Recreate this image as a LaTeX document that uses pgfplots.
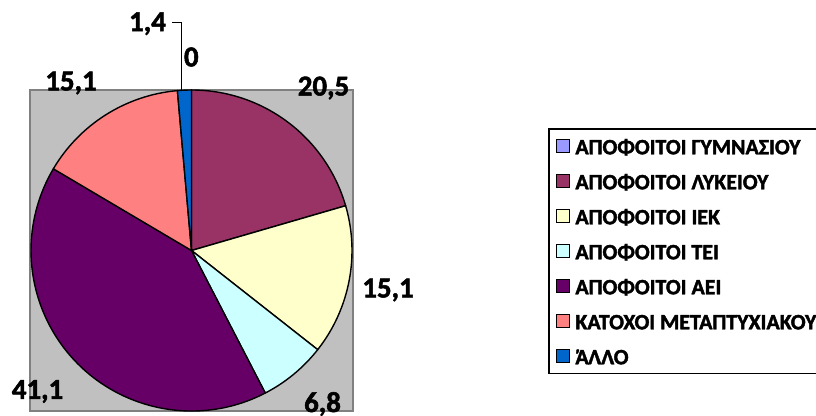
\documentclass[border=0pt]{standalone}
\usepackage{pgfplots}
\pgfplotsset{compat=1.18}
\usepackage{fontspec}
\setmainfont{Carlito}
\newfontfamily\cbold{Carlito}[UprightFont={* Bold}, FakeBold=1.8]
\definecolor{cgym}{HTML}{9999FF}
\definecolor{clyk}{HTML}{993366}
\definecolor{ciek}{HTML}{FFFFCC}
\definecolor{ctei}{HTML}{CCFFFF}
\definecolor{caei}{HTML}{660066}
\definecolor{ckat}{HTML}{FF8080}
\definecolor{callo}{HTML}{0066CC}
\definecolor{plotbg}{HTML}{C0C0C0}
\definecolor{plotframe}{HTML}{808080}
\def\pcx{191.5}
\def\pcy{165.5}
\def\pr{160.5}
\begin{document}
\begin{tikzpicture}
\begin{axis}[scale only axis, width=816bp, height=416bp,
  xmin=0, xmax=816, ymin=0, ymax=416, hide axis, clip=false,
  legend image code/.code={\draw[#1,draw=black,line width=1.6bp] (0bp,-6.5bp) rectangle (13bp,6.5bp);},
  legend style={at={(axis cs:548,288)}, anchor=north west, draw=black, line width=1.6bp,
    inner xsep=7bp, inner ysep=6bp, row sep=12.3bp, column sep=5bp,
    font=\cbold\fontsize{22}{23}\selectfont,
    nodes={inner sep=0pt, text height=19.5bp, text depth=3.2bp},
    cells={anchor=west}},
]
\fill[plotbg, draw=plotframe, line width=1.5bp] (axis cs:30,5) rectangle (axis cs:353,326);
\gdef\cumang{90}
\foreach \v/\c in {0/cgym,20.5/clyk,15.1/ciek,6.8/ctei,41.1/caei,15.1/ckat,1.4/callo}{
  \pgfmathsetmacro\a{\cumang}
  \pgfmathsetmacro\b{\cumang-3.6*\v}
  \pgfmathsetmacro\sx{\pcx+\pr*cos(\a)}
  \pgfmathsetmacro\sy{\pcy+\pr*sin(\a)}
  \edef\temp{\noexpand\filldraw[fill=\c, draw=black, line width=1.4bp, line join=round] (axis cs:\pcx,\pcy) -- (axis cs:\sx,\sy) arc[start angle=\a, end angle=\b, radius=\pr bp] -- cycle;}
  \temp
  \xdef\cumang{\b}
}
\draw[black, line width=1.2bp] (axis cs:172,393.3) -- (axis cs:181.7,393.3) -- (axis cs:181.7,326);
\begin{scope}[every node/.style={font=\cbold\fontsize{29}{29}\selectfont}]
\node at (axis cs:147.5,392.3) {1,4};
\node at (axis cs:191.3,359) {0};
\node at (axis cs:323.5,328) {20,5};
\node at (axis cs:388,126) {15,1};
\node at (axis cs:322.5,12) {6,8};
\node at (axis cs:37.5,24.5) {41,1};
\node at (axis cs:71,333) {15,1};
\end{scope}
\addlegendimage{fill=cgym}\addlegendentry{ΑΠΟΦΟΙΤΟΙ ΓΥΜΝΑΣΙΟΥ}
\addlegendimage{fill=clyk}\addlegendentry{ΑΠΟΦΟΙΤΟΙ ΛΥΚΕΙΟΥ}
\addlegendimage{fill=ciek}\addlegendentry{ΑΠΟΦΟΙΤΟΙ ΙΕΚ}
\addlegendimage{fill=ctei}\addlegendentry{ΑΠΟΦΟΙΤΟΙ ΤΕΙ}
\addlegendimage{fill=caei}\addlegendentry{ΑΠΟΦΟΙΤΟΙ ΑΕΙ}
\addlegendimage{fill=ckat}\addlegendentry{ΚΑΤΟΧΟΙ ΜΕΤΑΠΤΥΧΙΑΚΟΥ}
\addlegendimage{fill=callo}\addlegendentry{Ά\kern-0.5pt ΛΛΟ}
\end{axis}
\pgfresetboundingbox
\useasboundingbox (0,0) rectangle (816bp,416bp);
\end{tikzpicture}
\end{document}
